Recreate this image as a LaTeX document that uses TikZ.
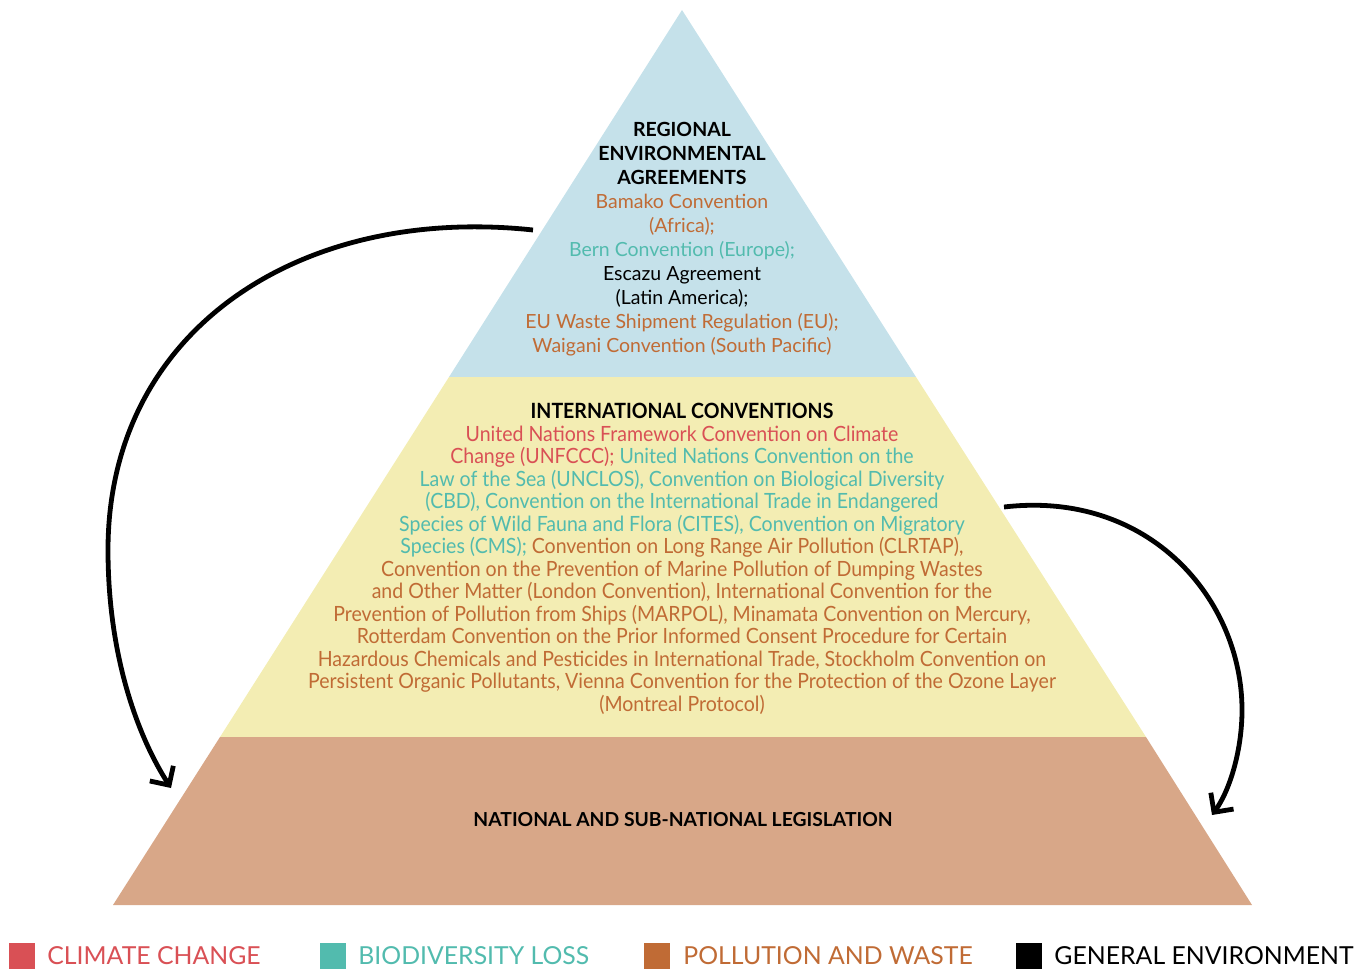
\documentclass[tikz,border=0pt]{standalone}
\usepackage{fontspec}
\setmainfont{Lato}
\newfontfamily\narrowfont[FakeStretch=0.93]{Lato}
\usetikzlibrary{arrows.meta,positioning}
\definecolor{climate}{HTML}{D95055}
\definecolor{biodiv}{HTML}{52BBAE}
\definecolor{pollution}{HTML}{C06B35}
\definecolor{regionfill}{HTML}{C5E1EA}
\definecolor{intlfill}{HTML}{F3EDB3}
\definecolor{nationfill}{HTML}{D8A788}

\begin{document}
\begin{tikzpicture}[
		x=0.5pt,y=-0.5pt,
		tiertext/.style={
			align=center,
			inner sep=0pt
		},
		curved/.style={
			-{Straight Barb[length=7pt,width=14pt,line width=2.4pt]},
			line width=2.4pt
		},
		swatch/.style={
			minimum width=13pt,
			minimum height=13pt,
			inner sep=0pt,
			anchor=north west
		},
		legendtext/.style={
			anchor=west,
			inner sep=0pt,
			font=\fontsize{12.4}{14}\selectfont
		}
		]
		\useasboundingbox (0,0) rectangle (1368,968);
		% the three tiers
		\coordinate (apex) at (682,10);
		\coordinate (regL) at (449,377);
		\coordinate (regR) at (916,377);
		\coordinate (intL) at (220,737);
		\coordinate (intR) at (1146,737);
		\coordinate (natL) at (113,905);
		\coordinate (natR) at (1252,905);
		\fill[regionfill] (apex) -- (regR) -- (regL) -- cycle;
		\fill[intlfill] (regL) -- (regR) -- (intR) -- (intL) -- cycle;
		\fill[nationfill] (intL) -- (intR) -- (natR) -- (natL) -- cycle;
		
		\node[tiertext,font=\fontsize{9.75}{12}\selectfont] (regional) at (682,239) {%
			\textbf{REGIONAL}\\
			\textbf{ENVIRONMENTAL}\\
			\textbf{AGREEMENTS}\\
			\textcolor{pollution}{Bamako Convention}\\
			\textcolor{pollution}{(Africa);}\\
			\textcolor{biodiv}{Bern Convention (Europe);}\\
			Escazu Agreement\\
			(Latin America);\\
			\textcolor{pollution}{EU Waste Shipment Regulation (EU);}\\
			\textcolor{pollution}{Waigani Convention (South Pacific)}};
		
		\node[tiertext,font=\narrowfont\fontsize{10.5}{11.25}\selectfont] (international) at (682,559) {%
			\textbf{INTERNATIONAL CONVENTIONS}\\
			\textcolor{climate}{United Nations Framework Convention on Climate}\\
			\textcolor{climate}{Change (UNFCCC);} \textcolor{biodiv}{United Nations Convention on the}\\
			\textcolor{biodiv}{Law of the Sea (UNCLOS), Convention on Biological Diversity}\\
			\textcolor{biodiv}{(CBD), Convention on the International Trade in Endangered}\\
			\textcolor{biodiv}{Species of Wild Fauna and Flora (CITES), Convention on Migratory}\\
			\textcolor{biodiv}{Species (CMS);} \textcolor{pollution}{Convention on Long Range Air Pollution (CLRTAP),}\\
			\textcolor{pollution}{Convention on the Prevention of Marine Pollution of Dumping Wastes}\\
			\textcolor{pollution}{and Other Matter (London Convention), International Convention for the}\\
			\textcolor{pollution}{Prevention of Pollution from Ships (MARPOL), Minamata Convention on Mercury,}\\
			\textcolor{pollution}{Rotterdam Convention on the Prior Informed Consent Procedure for Certain}\\
			\textcolor{pollution}{Hazardous Chemicals and Pesticides in International Trade, Stockholm Convention on}\\
			\textcolor{pollution}{Persistent Organic Pollutants, Vienna Convention for the Protection of the Ozone Layer}\\
			\textcolor{pollution}{(Montreal Protocol)}};
		
		\node[tiertext,font=\bfseries\fontsize{9.65}{11}\selectfont] (national) at (683,820) {NATIONAL AND SUB-NATIONAL LEGISLATION};
		
		% arrows between tiers
		\coordinate (regOut) at (533,230);
		\coordinate (natInL) at (171,788);
		\coordinate (intOut) at (1004,507);
		\coordinate (natInR) at (1212,815);
		\draw[curved] (regOut) .. controls (300,205) and (108,330) .. (108,550) .. controls (108,660) and (140,740) .. (natInL);
		\draw[curved] (intOut) .. controls (1150,490) and (1242,600) .. (1242,710) .. controls (1242,750) and (1230,790) .. (natInR);
		
		% legend
		\node[swatch,fill=climate] (swClimate) at (9,943) {};
		\node[legendtext,text=climate] (lgClimate) at (47,956) {CLIMATE CHANGE};
		\node[swatch,fill=biodiv] (swBiodiv) at (320,943) {};
		\node[legendtext,text=biodiv] (lgBiodiv) at (358,956) {BIODIVERSITY LOSS};
		\node[swatch,fill=pollution] (swPollution) at (644,943) {};
		\node[legendtext,text=pollution] (lgPollution) at (683,956) {POLLUTION AND WASTE};
		\node[swatch,fill=black] (swGeneral) at (1016,943) {};
		\node[legendtext] (lgGeneral) at (1054,956) {GENERAL ENVIRONMENT};
		\end{tikzpicture}
\end{document}
